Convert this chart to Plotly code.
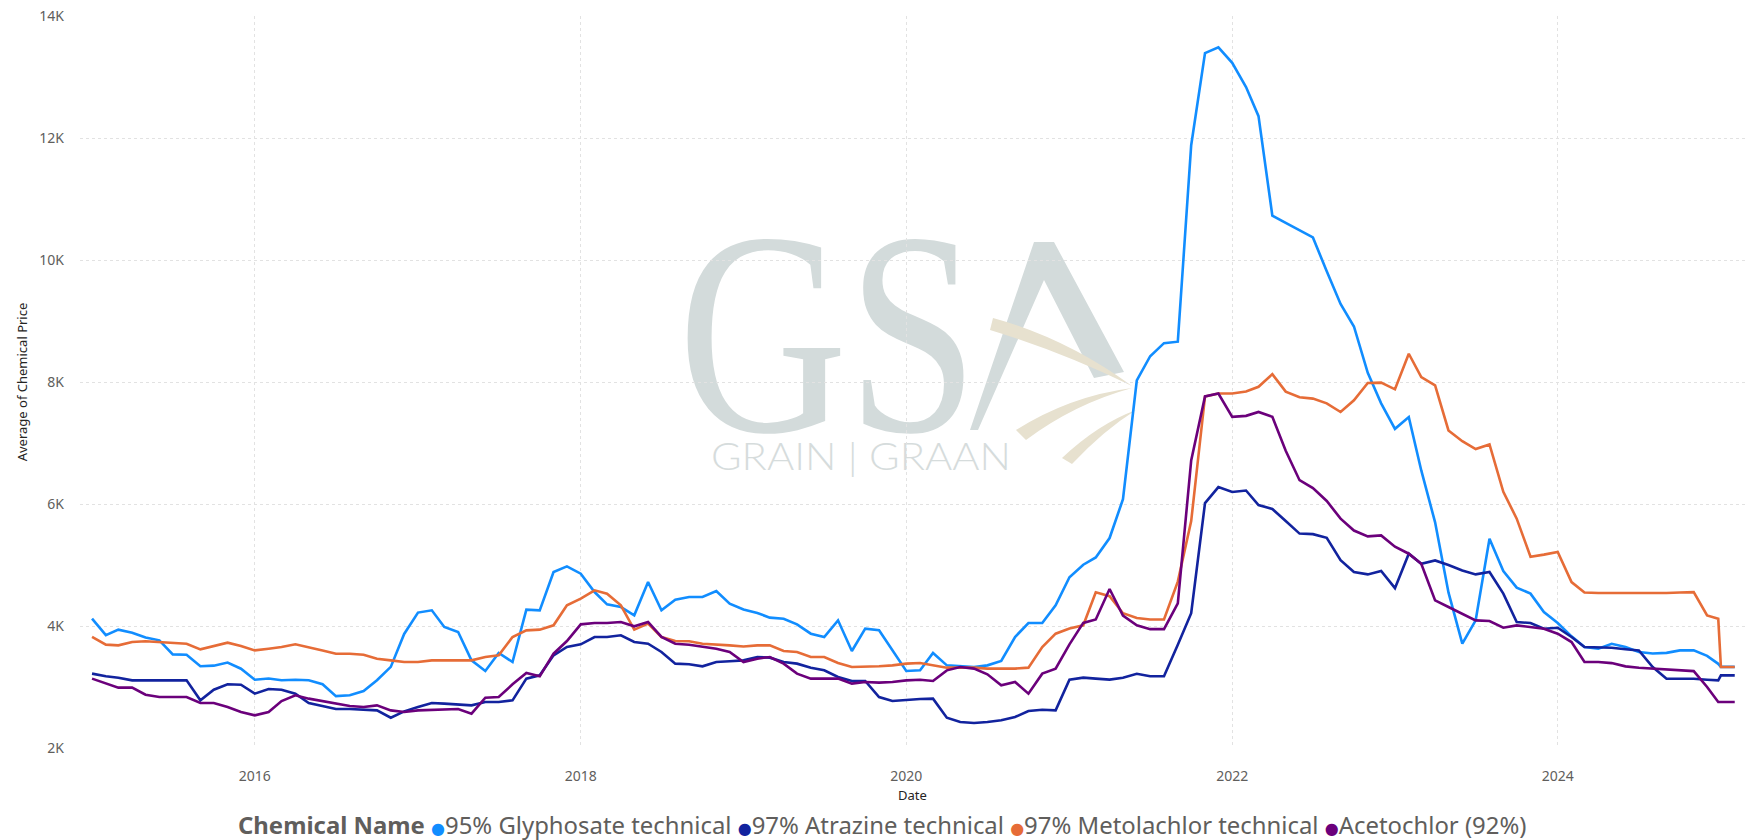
import base64
import pandas as pd
import plotly.graph_objects as go

# ---------------- data ----------------
dates = list(pd.date_range("2015-01-01", "2024-12-01", freq="MS").strftime("%Y-%m-%d")) + [
    "2024-12-26", "2025-01-01", "2025-02-01"]

series_names = ["95% Glyphosate technical", "97% Atrazine technical",
                "97% Metolachlor technical", "Acetochlor (92%)"]

glyphosate = [4120, 3850, 3940, 3890, 3810, 3765, 3535, 3530, 3340, 3350, 3400, 3300,
              3120, 3140, 3110, 3120, 3110, 3045, 2850, 2865, 2935, 3110, 3330, 3870,
              4220, 4257, 3984, 3902, 3437, 3262, 3557, 3410, 4268, 4257, 4885, 4978,
              4858, 4557, 4355, 4311, 4175, 4721, 4257, 4432, 4475, 4475, 4574, 4366,
              4270, 4213, 4137, 4120, 4027, 3874, 3820, 4093, 3590, 3956, 3929, 3601,
              3262, 3273, 3557, 3355, 3339, 3328, 3355, 3426, 3820, 4049, 4049, 4339,
              4800, 5005, 5124, 5442, 6078, 8025, 8423, 8637, 8661, 11881, 13391, 13486,
              13232, 12835, 12358, 10728, 10609, 10490, 10370, 9814, 9280, 8910, 8150, 7650,
              7232, 7425, 6550, 5700, 4550, 3710, 4093, 5431, 4900, 4630, 4530, 4230,
              4050, 3830, 3655, 3628, 3709, 3655, 3574, 3550, 3560, 3600, 3600, 3510,
              3380, 3330, 3330]

atrazine = [3219, 3175, 3153, 3109, 3109, 3109, 3109, 3109, 2781, 2956, 3044, 3038,
            2891, 2967, 2956, 2891, 2738, 2689, 2639, 2639, 2628, 2617, 2497, 2601,
            2672, 2738, 2727, 2716, 2699, 2754, 2754, 2781, 3137, 3191, 3519, 3656,
            3700, 3820, 3820, 3847, 3738, 3710, 3574, 3383, 3372, 3339, 3410, 3421,
            3437, 3492, 3481, 3410, 3383, 3317, 3273, 3164, 3098, 3098, 2836, 2770,
            2792, 2803, 2809, 2497, 2426, 2410, 2426, 2454, 2508, 2607, 2628, 2617,
            3120, 3153, 3137, 3121, 3153, 3216, 3176, 3176, 3693, 4210, 6014, 6277,
            6197, 6221, 5983, 5919, 5720, 5515, 5506, 5445, 5080, 4886, 4846, 4901,
            4620, 5185, 5021, 5075, 5000, 4911, 4846, 4885, 4530, 4065, 4049, 3956,
            3972, 3819, 3655, 3644, 3644, 3620, 3600, 3327, 3135, 3135, 3135, 3120,
            3108, 3190, 3190]

metolachlor = [3820, 3694, 3683, 3738, 3749, 3738, 3721, 3710, 3617, 3672, 3727, 3672,
               3600, 3628, 3656, 3700, 3645, 3600, 3546, 3546, 3530, 3464, 3437, 3410,
               3410, 3437, 3437, 3437, 3437, 3492, 3519, 3820, 3929, 3940, 4011, 4339,
               4448, 4585, 4530, 4339, 3940, 4038, 3820, 3754, 3749, 3710, 3700, 3683,
               3665, 3683, 3683, 3590, 3574, 3492, 3492, 3393, 3328, 3328, 3339, 3355,
               3383, 3393, 3355, 3317, 3317, 3317, 3301, 3301, 3301, 3317, 3656, 3874,
               3960, 4011, 4552, 4488, 4210, 4130, 4107, 4107, 4727, 5720, 7763, 7811,
               7811, 7843, 7922, 8129, 7843, 7750, 7728, 7650, 7508, 7700, 7985, 7990,
               7880, 8463, 8081, 7944, 7206, 7030, 6900, 6977, 6200, 5760, 5136, 5170,
               5212, 4720, 4550, 4541, 4541, 4530, 4530, 4530, 4541, 4550, 4556, 4174,
               4119, 3327, 3327]

acetochlor = [3137, 3055, 2989, 2989, 2874, 2836, 2836, 2836, 2738, 2738, 2672, 2590,
              2536, 2590, 2770, 2863, 2809, 2770, 2727, 2689, 2672, 2699, 2617, 2590,
              2617, 2628, 2639, 2639, 2563, 2825, 2836, 3044, 3230, 3175, 3546, 3754,
              4027, 4049, 4049, 4066, 3995, 4066, 3820, 3710, 3694, 3656, 3628, 3574,
              3410, 3464, 3492, 3383, 3219, 3137, 3137, 3137, 3055, 3082, 3071, 3082,
              3109, 3120, 3098, 3273, 3328, 3301, 3208, 3027, 3082, 2891, 3219, 3301,
              3700, 4051, 4107, 4607, 4170, 4011, 3948, 3948, 4369, 6714, 7763, 7811,
              7429, 7445, 7509, 7429, 6873, 6390, 6260, 6050, 5760, 5565, 5470, 5485,
              5300, 5185, 5021, 4420, 4311, 4201, 4092, 4081, 3972, 4010, 3983, 3956,
              3873, 3737, 3409, 3409, 3392, 3338, 3316, 3300, 3283, 3272, 3261, 3000,
              2753, 2753, 2753]

y_tick_values = [2000, 4000, 6000, 8000, 10000, 12000, 14000]
y_tick_labels = ["2K", "4K", "6K", "8K", "10K", "12K", "14K"]

colors = ["#118DFF", "#12239E", "#E66C37", "#6B007B"]
all_values = [glyphosate, atrazine, metolachlor, acetochlor]

# ---------------- layout constants ----------------
W, H = 1747, 840
L, R, T, B = 80, 2, 16, 92
PW, PH = W - L - R, H - T - B
FONT = "Noto Sans, Open Sans, DejaVu Sans, sans-serif"

fig = go.Figure()
for name, vals, col in zip(series_names, all_values, colors):
    fig.add_trace(go.Scatter(x=dates, y=vals, mode="lines", name=name,
                             line=dict(color=col, width=2.6), showlegend=False))

# watermark logo (decorative) drawn as an SVG image covering the figure
svg = f'''<svg xmlns="http://www.w3.org/2000/svg" width="{W}" height="{H}" viewBox="0 0 {W} {H}">
<text x="678" y="431" font-family="Liberation Serif, DejaVu Serif, serif" font-size="290" fill="#d3dbdb"
 textLength="300" lengthAdjust="spacingAndGlyphs">GS</text>
<path d="M1034 242 L1054 242 L1124 372 L1094 378 L1044 280 L978 430 L970 430 Z" fill="#d3dbdb"/>
<path d="M993 318 Q1066 338 1132 386 Q1062 352 990 330 Z" fill="#e7e1cf"/>
<path d="M1016 430 Q1070 396 1132 388 Q1074 404 1026 440 Z" fill="#e7e1cf"/>
<path d="M1062 458 Q1098 424 1136 410 Q1104 430 1072 464 Z" fill="#e7e1cf"/>
<text x="711" y="470" font-family="Lato, Open Sans, sans-serif" font-weight="300" font-size="38" fill="#d6dcdc"
 textLength="300" lengthAdjust="spacingAndGlyphs">GRAIN | GRAAN</text>
</svg>'''
src = "data:image/svg+xml;base64," + base64.b64encode(svg.encode()).decode()
fig.add_layout_image(dict(source=src, xref="paper", yref="paper",
                          x=-L / PW, y=1 + T / PH, sizex=W / PW, sizey=H / PH,
                          xanchor="left", yanchor="top", sizing="stretch", layer="below"))

# legend built as a text line
legend_text = "<b>Chemical Name</b> " + " ".join(
    f"<span style='color:{c};font-size:16px'>●</span>{n}" for n, c in zip(series_names, colors))
fig.add_annotation(text=legend_text, xref="paper", yref="paper", x=(236 - L) / PW, y=0,
                   xanchor="left", yanchor="middle", yshift=-(824 - (H - B)), showarrow=False,
                   font=dict(family=FONT, size=23.9, color="#605E5C"))

# x-axis title placed as text under the tick labels
fig.add_annotation(text="Date", xref="paper", yref="paper", x=0.5, y=0, xanchor="center",
                   yanchor="middle", yshift=-(795 - (H - B)), showarrow=False,
                   font=dict(family=FONT, size=13, color="#252423"))

grid = dict(showgrid=True, gridcolor="#e2e2e2", griddash="dot", gridwidth=1,
            zeroline=False, showline=False, ticks="", automargin=False)
fig.update_xaxes(**grid, type="date", range=["2014-12-05", "2025-02-24"],
                 tick0="2016-01-01", dtick="M24", tickformat="%Y",
                 tickfont=dict(family=FONT, size=14, color="#605E5C"), ticklabelstandoff=18)
fig.update_yaxes(**grid, range=[2000, 14000], tickvals=y_tick_values, ticktext=y_tick_labels,
                 tickfont=dict(family=FONT, size=14, color="#605E5C"), ticklabelstandoff=15,
                 title=dict(text="Average of Chemical Price",
                            font=dict(family=FONT, size=13, color="#252423"), standoff=8))
fig.update_layout(width=W, height=H, margin=dict(l=L, r=R, t=T, b=B),
                  paper_bgcolor="white", plot_bgcolor="rgba(0,0,0,0)",
                  hovermode="x unified")
fig.write_html("out.html", config={"displayModeBar": False},
               post_script="document.body.style.margin='0px';document.body.style.overflow='hidden';")
